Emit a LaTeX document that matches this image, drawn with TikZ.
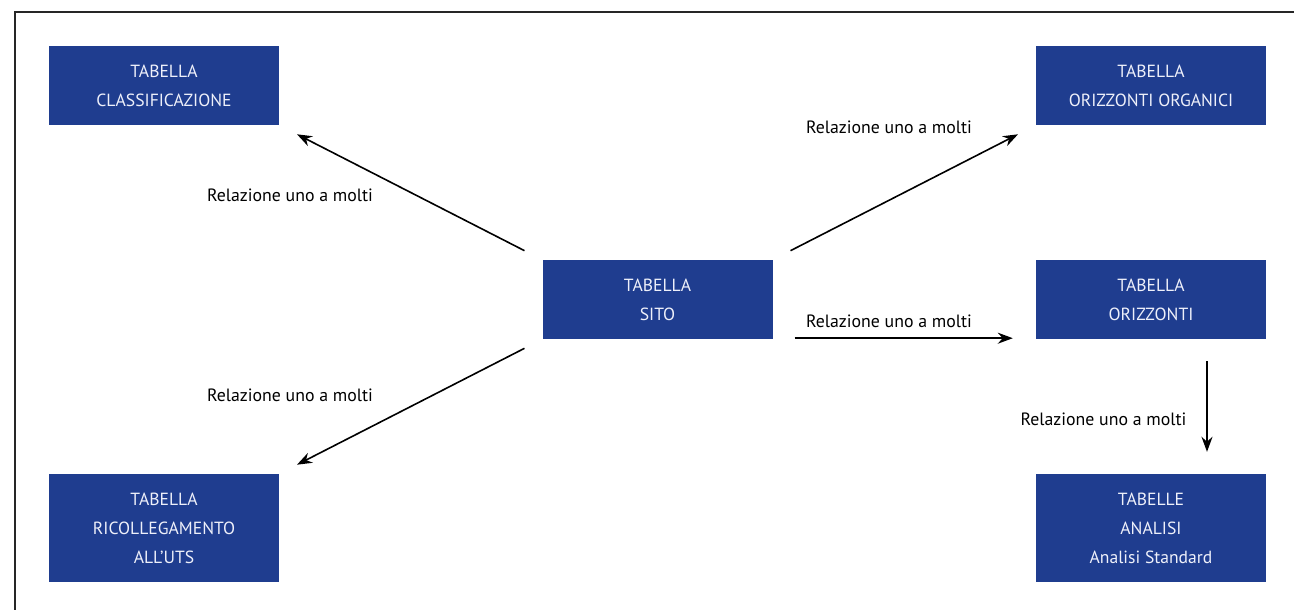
\documentclass[tikz,border=0pt]{standalone}
\usepackage{fontspec}
\setmainfont{PT Sans}
\usetikzlibrary{arrows.meta}
\definecolor{boxblue}{RGB}{31,61,143}
\definecolor{boxtext}{RGB}{238,240,250}
\begin{document}
\begin{tikzpicture}[x=1pt,y=-1pt,
  tbl/.style={fill=boxblue, text=boxtext, minimum width=230pt, minimum height=79pt,
    inner sep=0pt, align=center, font=\fontsize{17.6}{29}\selectfont},
  rel/.style={font=\fontsize{17.8}{20}\selectfont, anchor=base, inner sep=0pt},
  conn/.style={line width=1.6pt, -{Stealth[length=15pt,width=11pt]},
    shorten <=20pt, shorten >=20pt}]
\useasboundingbox (0,0) rectangle (1294,610);
\coordinate (fbl) at (15,610);
\coordinate (ftl) at (15,12);
\coordinate (ftr) at (1294,12);
\draw[line width=1.5pt, black!85] (fbl) -- (ftl) -- (ftr);

\node[tbl] (class) at (164,85.5) {TABELLA\\CLASSIFICAZIONE};
\node[tbl] (org) at (1151,85.5) {TABELLA\\ORIZZONTI ORGANICI};
\node[tbl] (sito) at (657.5,299.5) {TABELLA\\SITO};
\node[tbl] (oriz) at (1151,299.5) {TABELLA\\ORIZZONTI};
\node[tbl, minimum height=108pt] (ric) at (164,528) {TABELLA\\RICOLLEGAMENTO\\ALL’UTS};
\node[tbl, minimum height=108pt] (anal) at (1151,528) {TABELLE\\ANALISI\\Analisi Standard};

\draw[conn] (sito.north west) -- (class.south east);
\draw[conn] (sito.north east) -- (org.south west);
\draw[conn] (sito.south west) -- (ric.north east);
\draw[conn, shorten <=22pt, shorten >=23pt] ([yshift=1pt]sito.south east) -- ([yshift=1pt]oriz.south west);
\draw[conn, shorten <=22pt, shorten >=22pt] ([xshift=56pt]oriz.south) -- ([xshift=56pt]anal.north);

\node[rel] (l1) at (290,201) {Relazione uno a molti};
\node[rel] (l2) at (889,133) {Relazione uno a molti};
\node[rel] (l3) at (889,327) {Relazione uno a molti};
\node[rel] (l4) at (290,401) {Relazione uno a molti};
\node[rel] (l5) at (1103.5,425) {Relazione uno a molti};
\end{tikzpicture}
\end{document}
